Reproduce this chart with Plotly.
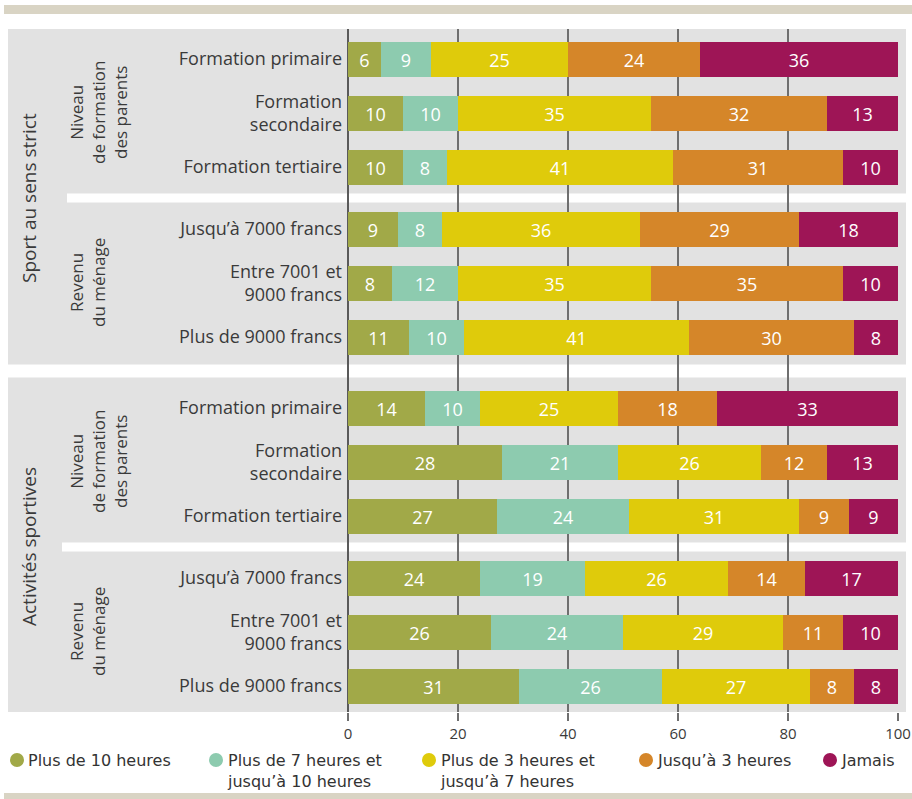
import plotly.graph_objects as go

# ---- data -------------------------------------------------------------
categories = [
    "Formation primaire", "Formation<br>secondaire", "Formation tertiaire",
    "Jusqu’à 7000 francs", "Entre 7001 et<br>9000 francs", "Plus de 9000 francs",
    "Formation primaire", "Formation<br>secondaire", "Formation tertiaire",
    "Jusqu’à 7000 francs", "Entre 7001 et<br>9000 francs", "Plus de 9000 francs",
]
series_names = [
    "Plus de 10 heures",
    "Plus de 7 heures et<br>jusqu’à 10 heures",
    "Plus de 3 heures et<br>jusqu’à 7 heures",
    "Jusqu’à 3 heures",
    "Jamais",
]
plus_10h = [6, 10, 10, 9, 8, 11, 14, 28, 27, 24, 26, 31]
de_7_a_10h = [9, 10, 8, 8, 12, 10, 10, 21, 24, 19, 24, 26]
de_3_a_7h = [25, 35, 41, 36, 35, 41, 25, 26, 31, 26, 29, 27]
jusqu_3h = [24, 32, 31, 29, 35, 30, 18, 12, 9, 14, 11, 8]
jamais = [36, 13, 10, 18, 10, 8, 33, 13, 9, 17, 10, 8]
series_values = [plus_10h, de_7_a_10h, de_3_a_7h, jusqu_3h, jamais]

panel_titles = ["Sport au sens strict", "Activités sportives"]
subgroup_titles = ["Niveau<br>de formation<br>des parents", "Revenu<br>du ménage"]
x_ticks = [0, 20, 40, 60, 80, 100]

colors = ["#A1A948", "#8DCBAF", "#DFCB0B", "#D58629", "#9E1556"]

# ---- geometry (pixels) -------------------------------------------------
W, H = 912, 799
ML, MR, MT, MB = 348, 14, 29, 87
PW = W - ML - MR
PH = H - MT - MB
PITCH = 54          # distance between rows of one subgroup
SUB_GAP = 8         # extra space between the two subgroups of a panel
PANEL_GAP = 17      # extra space between the two panels
FIRST = 30          # centre of the first row, from the top of the plot
BAR_H = 35

y_pos = []
y = FIRST
for p in range(2):
    for s in range(2):
        for j in range(3):
            y_pos.append(y)
            y += PITCH
        y += SUB_GAP
    y += PANEL_GAP - SUB_GAP


def px_x(px):
    return (px - ML) / PW


def px_y(px):
    return 1 - (px - MT) / PH


font_main = "Open Sans"
text_col = "#3a3a3a"

fig = go.Figure()
for name, vals, col in zip(series_names, series_values, colors):
    fig.add_trace(go.Bar(
        x=vals, y=y_pos, orientation="h", name=name,
        width=BAR_H, marker=dict(color=col, line=dict(width=0)),
        text=vals, texttemplate="%{text}", textposition="inside",
        insidetextanchor="middle", textangle=0,
        textfont=dict(color="white", size=18, family=font_main),
        showlegend=False, hoverinfo="skip",
    ))

shapes = []
# decorative bands at top and bottom
shapes.append(dict(type="rect", xref="paper", yref="paper",
                   x0=px_x(4), x1=px_x(912), y0=px_y(5), y1=px_y(14),
                   fillcolor="#D9D4C4", line=dict(width=0), layer="below"))
shapes.append(dict(type="rect", xref="paper", yref="paper",
                   x0=px_x(4), x1=px_x(912), y0=px_y(793), y1=px_y(800),
                   fillcolor="#D9D4C4", line=dict(width=0), layer="below"))
# grey panels behind each block
panel_rows = [(0, 5), (6, 11)]
panel_bounds = [(0, y_pos[5] + BAR_H / 2 + 10),
                (y_pos[6] - BAR_H / 2 - 13, PH)]
for i, (a, b) in enumerate(panel_rows):
    top, bot = panel_bounds[i]
    shapes.append(dict(type="rect", xref="paper", yref="y",
                       x0=px_x(8), x1=px_x(906), y0=top, y1=bot,
                       fillcolor="#E2E2E2", line=dict(width=0), layer="below"))
    # white divider between the two subgroups
    mid = (y_pos[a + 2] + y_pos[a + 3]) / 2
    shapes.append(dict(type="rect", xref="paper", yref="y",
                       x0=px_x(67 if i == 0 else 62), x1=px_x(906),
                       y0=mid - 4.5, y1=mid + 4.5,
                       fillcolor="white", line=dict(width=0), layer="below"))

annotations = []
for i, (a, b) in enumerate(panel_rows):
    annotations.append(dict(
        text=panel_titles[i], xref="paper", yref="y",
        x=px_x(29), y=(y_pos[a] + y_pos[b]) / 2, textangle=-90,
        showarrow=False, font=dict(size=19, family=font_main, color=text_col),
        xanchor="center", yanchor="middle"))
    for s in range(2):
        c = (y_pos[a + 3 * s] + y_pos[a + 3 * s + 2]) / 2
        n_lines = subgroup_titles[s].count("<br>") + 1
        cx = 98 if n_lines == 3 else 87
        annotations.append(dict(
            text=subgroup_titles[s], xref="paper", yref="y",
            x=px_x(cx), y=c, textangle=-90, align="center",
            showarrow=False, font=dict(size=17, family=font_main, color=text_col),
            xanchor="center", yanchor="middle"))

# legend: coloured dots with labels
legend_x = [17, 216, 429, 646, 830]
for name, col, lx in zip(series_names, colors, legend_x):
    shapes.append(dict(type="circle", xref="paper", yref="paper",
                       xsizemode="pixel", ysizemode="pixel",
                       xanchor=px_x(lx), yanchor=px_y(760),
                       x0=-7, x1=7, y0=-7, y1=7,
                       fillcolor=col, line=dict(width=0)))
    annotations.append(dict(
        text=name, xref="paper", yref="paper",
        x=px_x(lx + 9), y=px_y(749), xanchor="left", yanchor="top",
        align="left", showarrow=False,
        font=dict(size=16, family="DejaVu Sans", color="#333333")))

fig.update_layout(
    width=W, height=H, barmode="stack", bargap=0,
    margin=dict(l=ML, r=MR, t=MT, b=MB, pad=0, autoexpand=False),
    paper_bgcolor="white", plot_bgcolor="rgba(0,0,0,0)",
    shapes=shapes, annotations=annotations,
    uniformtext=dict(mode="show", minsize=18),
    xaxis=dict(range=[0, 100], tickvals=x_ticks, showgrid=True,
               gridcolor="#6f6f6f", gridwidth=1.5, zeroline=True,
               zerolinecolor="#5a5a5a", zerolinewidth=2,
               ticks="outside", ticklen=8, tickwidth=1.5, tickcolor="#6f6f6f",
               tickfont=dict(size=15, family=font_main, color=text_col),
               ticklabeloverflow="allow",
               showline=False, fixedrange=True, automargin=False),
    yaxis=dict(range=[PH, 0], tickvals=y_pos, ticktext=categories,
               showgrid=False, zeroline=False, showline=False, ticks="",
               ticklabelstandoff=5, automargin=False,
               tickfont=dict(size=18, family=font_main, color=text_col),
               fixedrange=True),
    font=dict(family=font_main),
)

fig.write_html("out.html")
